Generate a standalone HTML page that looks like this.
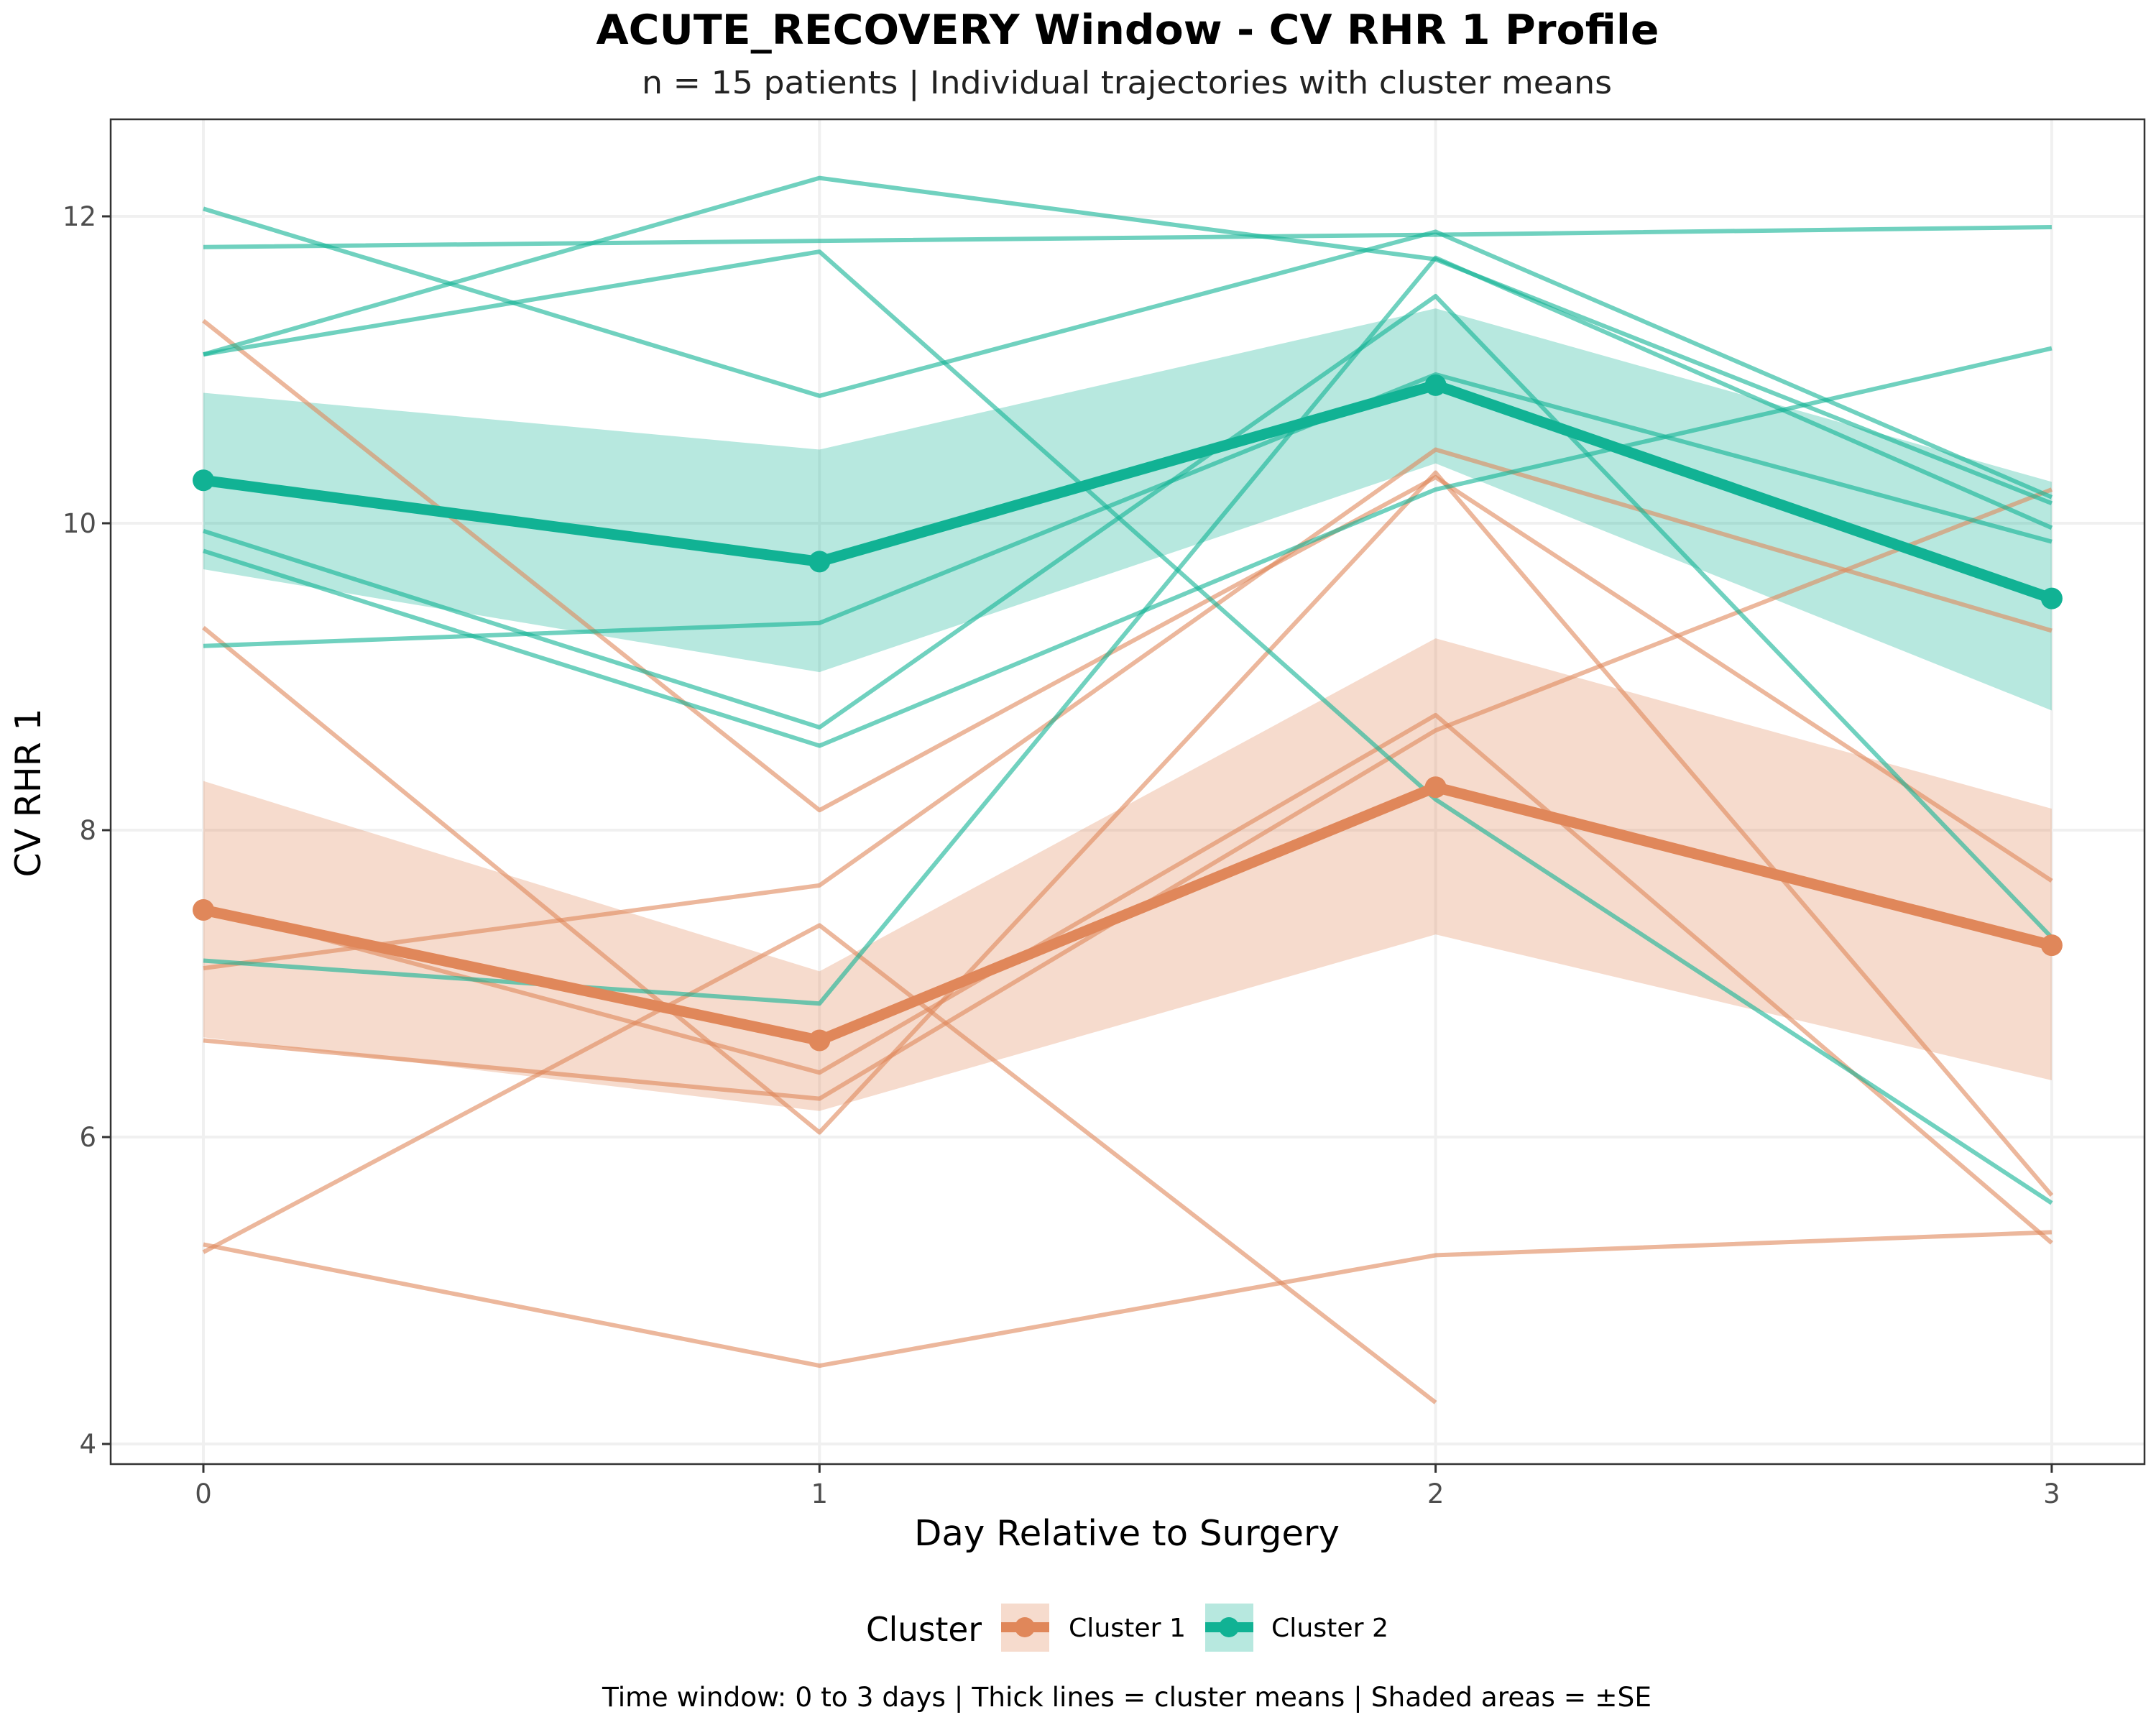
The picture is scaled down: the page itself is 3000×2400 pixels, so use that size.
<!DOCTYPE html>
<html><head><meta charset="utf-8"><style>
html,body{margin:0;padding:0;background:#fff;}
svg{display:block;font-family:"DejaVu Sans","Liberation Sans",sans-serif;}
</style></head><body>
<svg id="chart" width="3000" height="2400" viewBox="0 0 3000 2400" xmlns="http://www.w3.org/2000/svg">
<rect width="3000" height="2400" fill="#fff"/>
<text x="1569" y="61" text-anchor="middle" font-size="57" font-weight="bold" textLength="1479" lengthAdjust="spacingAndGlyphs">ACUTE_RECOVERY Window - CV RHR 1 Profile</text>
<text x="1568" y="130" text-anchor="middle" font-size="44" fill="#222" textLength="1350" lengthAdjust="spacingAndGlyphs">n = 15 patients | Individual trajectories with cluster means</text>
<g id="grid"></g>
<g id="bands"></g>
<g id="indiv"></g>
<g id="means"></g>
<rect x="154" y="166" width="2830" height="1871" fill="none" stroke="#333" stroke-width="2.5"/>
<g id="axes"></g>
<text x="1568" y="2150" text-anchor="middle" font-size="49" textLength="592" lengthAdjust="spacingAndGlyphs">Day Relative to Surgery</text>
<text transform="translate(56,1103) rotate(-90)" text-anchor="middle" font-size="49">CV RHR 1</text>
<g>
<text x="1205" y="2283" font-size="46" textLength="161" lengthAdjust="spacingAndGlyphs">Cluster</text>
<g>
<rect x="1393" y="2231" width="67" height="67" fill="#E0875A" fill-opacity="0.3"/>
<line x1="1393" y1="2264" x2="1460" y2="2264" stroke="#E0875A" stroke-width="14"/>
<circle cx="1426" cy="2264" r="14" fill="#E0875A"/>
<text x="1487" y="2277" font-size="36" textLength="163" lengthAdjust="spacingAndGlyphs">Cluster 1</text></g>
<g>
<rect x="1677" y="2231" width="67" height="67" fill="#11B294" fill-opacity="0.3"/>
<line x1="1677" y1="2264" x2="1744" y2="2264" stroke="#11B294" stroke-width="14"/>
<circle cx="1710" cy="2264" r="14" fill="#11B294"/>
<text x="1769" y="2277" font-size="36" textLength="163" lengthAdjust="spacingAndGlyphs">Cluster 2</text></g>
</g>
<text x="1568" y="2374" text-anchor="middle" font-size="37" textLength="1460" lengthAdjust="spacingAndGlyphs">Time window: 0 to 3 days | Thick lines = cluster means | Shaded areas = ±SE</text>
</svg>
<script>
const days = [0, 1, 2, 3];
const yTicks = [4, 6, 8, 10, 12];
const c2Lines = [
  [11.8, 11.84, 11.88, 11.93],
  [11.1, 12.25, 11.72, 10.13],
  [11.1, 11.77, 8.2, 5.57],
  [12.05, 10.83, 11.9, 10.17],
  [9.95, 8.67, 11.48, 7.3],
  [9.82, 8.55, 10.22, 11.14],
  [9.2, 9.35, 10.97, 9.88],
  [7.15, 6.87, 11.73, 9.97]
];
const c1Lines = [
  [11.32, 8.13, 10.3, 7.67],
  [9.32, 6.03, 10.33, 5.62],
  [7.1, 7.64, 10.48, 9.3],
  [6.63, 6.25, 8.65, 10.22],
  [7.5, 6.42, 8.75, 5.31],
  [5.25, 7.38, 4.27, null],
  [5.3, 4.51, 5.23, 5.38]
];
const c1Mean = [7.48, 6.63, 8.28, 7.25];
const c1Lo = [6.65, 6.17, 7.32, 6.37];
const c1Hi = [8.32, 7.08, 9.25, 8.14];
const c2Mean = [10.28, 9.75, 10.9, 9.51];
const c2Lo = [9.7, 9.03, 10.39, 8.78];
const c2Hi = [10.85, 10.48, 11.4, 10.27];

const C1 = '#E0875A', C2 = '#11B294';
const NS = 'http://www.w3.org/2000/svg';
function xs(d){ return 283 + d * 857.3; }
function ys(v){ return 301 + (12 - v) * 213.5; }
function mk(tag, attrs, parent){
  const el = document.createElementNS(NS, tag);
  for (const k in attrs) el.setAttribute(k, attrs[k]);
  parent.appendChild(el);
  return el;
}
const grid = document.getElementById('grid');
const axes = document.getElementById('axes');
yTicks.forEach(t => {
  const g = mk('line', {x1:154, x2:2984, y1:ys(t), y2:ys(t), stroke:'#f0f0f0', 'stroke-width':4}, grid);
  
  
  mk('line', {x1:142, x2:154, y1:ys(t), y2:ys(t), stroke:'#333', 'stroke-width':3}, axes);
  const tx = mk('text', {x:134, y:ys(t)+13, 'text-anchor':'end', 'font-size':37, fill:'#4d4d4d'}, axes);
  tx.textContent = t;
  
  
});
days.forEach(d => {
  const g = mk('line', {x1:xs(d), x2:xs(d), y1:166, y2:2037, stroke:'#f0f0f0', 'stroke-width':4}, grid);
  
  
  mk('line', {x1:xs(d), x2:xs(d), y1:2037, y2:2049, stroke:'#333', 'stroke-width':3}, axes);
  const tx = mk('text', {x:xs(d), y:2091, 'text-anchor':'middle', 'font-size':37, fill:'#4d4d4d'}, axes);
  tx.textContent = d;
  
  
});
function band(lo, hi, color, name){
  let pts = days.map((d,i) => xs(d)+','+ys(hi[i]));
  pts = pts.concat(days.slice().reverse().map((d,j) => { const i = days.length-1-j; return xs(d)+','+ys(lo[i]); }));
  const p = mk('polygon', {points:pts.join(' '), fill:color, 'fill-opacity':0.3}, document.getElementById('bands'));
  
  
}
band(c1Lo, c1Hi, C1, 'se-band-cluster-1');
band(c2Lo, c2Hi, C2, 'se-band-cluster-2');
function polyline(vals, color, width, opacity, parent){
  const pts = [];
  vals.forEach((v,i) => { if (v !== null) pts.push(xs(days[i])+','+ys(v)); });
  return mk('polyline', {points:pts.join(' '), fill:'none', stroke:color, 'stroke-width':width, 'stroke-opacity':opacity, 'stroke-linejoin':'round'}, parent);
}
const indiv = document.getElementById('indiv');
c1Lines.forEach(l => {
  const p = polyline(l, C1, 6, 0.6, indiv);
  
  
});
c2Lines.forEach(l => {
  const p = polyline(l, C2, 6, 0.6, indiv);
  
  
});
const means = document.getElementById('means');
[[c1Mean, C1, 'cluster-1'], [c2Mean, C2, 'cluster-2']].forEach(([m, c, n]) => {
  const p = polyline(m, c, 15, 1, means);
  
  
  m.forEach((v,i) => {
    const ci = mk('circle', {cx:xs(days[i]), cy:ys(v), r:15, fill:c}, means);
    
    
  });
});
</script>
</body></html>
